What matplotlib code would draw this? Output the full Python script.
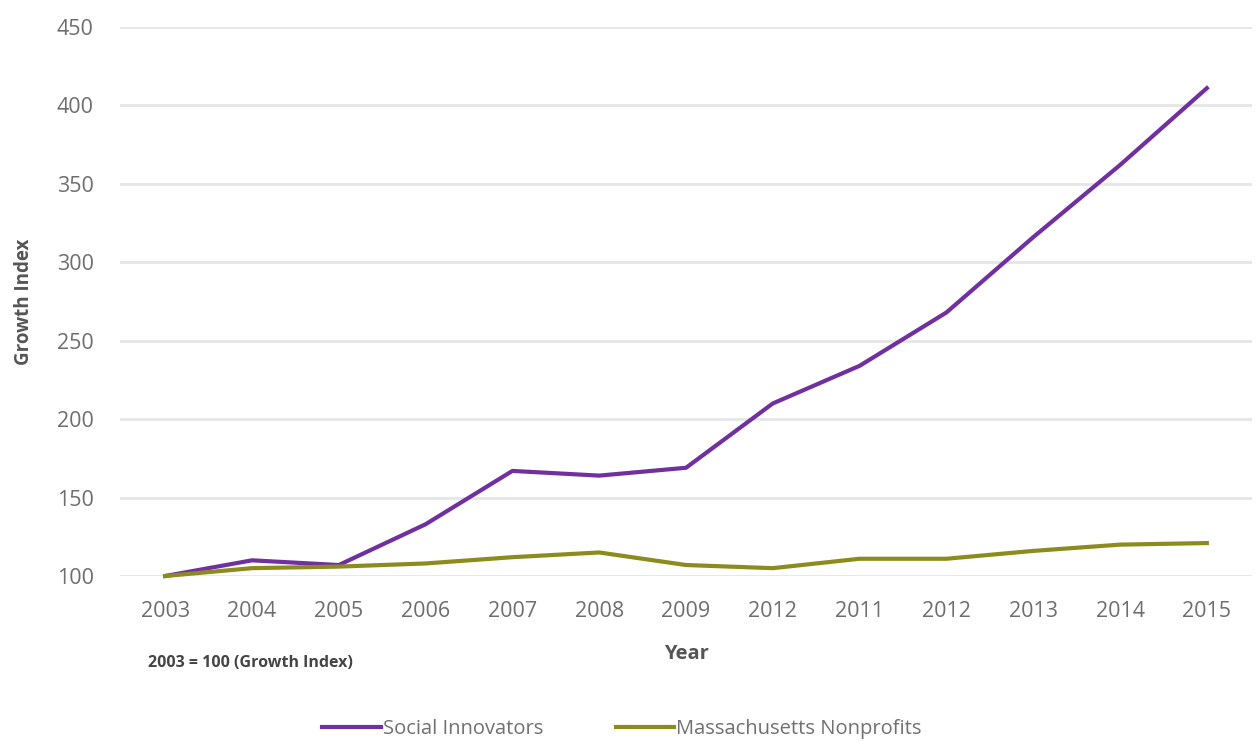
import matplotlib
matplotlib.use("Agg")
import matplotlib.pyplot as plt
import numpy as np

# Données (2003 = 100)
years = ["2003", "2004", "2005", "2006", "2007", "2008", "2009",
         "2012", "2011", "2012", "2013", "2014", "2015"]
social_innovators = [100, 110, 107, 133, 167, 164, 169, 210, 234, 268, 316, 362, 411]
ma_nonprofits = [100, 105, 106, 108, 112, 115, 107, 105, 111, 111, 116, 120, 121]
y_ticks = [100, 150, 200, 250, 300, 350, 400, 450]

plt.rcParams['font.family'] = ['Open Sans', 'DejaVu Sans']

fig = plt.figure(figsize=(12.57, 7.44), dpi=100)
ax = fig.add_axes([0.0955, 0.2258, 0.9005, 0.7379])

x = np.arange(len(years))
l1, = ax.plot(x, social_innovators, color="#7030A0", lw=3.0, label="Social Innovators",
              solid_joinstyle="round")
l2, = ax.plot(x, ma_nonprofits, color="#8C8C1E", lw=3.0, label="Massachusetts Nonprofits",
              solid_joinstyle="round")

ax.set_xlim(-0.52, 12.52)
ax.set_ylim(100, 450)
ax.set_yticks(y_ticks)
ax.set_xticks(x)
ax.set_xticklabels(years)
ax.yaxis.grid(True, color="#E6E6E6", lw=2)
ax.set_axisbelow(True)
for s in ax.spines.values():
    s.set_visible(False)
ax.tick_params(axis="both", length=0, labelsize=15.5, labelcolor="#6E6E6E")
ax.tick_params(axis="x", pad=18)
ax.tick_params(axis="y", pad=19)
for ln in (l1, l2):
    ln.set_clip_on(False)

ax.set_ylabel("Growth Index", fontsize=13.5, fontweight="bold", color="#555555")
ax.yaxis.set_label_coords(-0.076, 0.5)
ax.set_xlabel("Year", fontsize=14.5, fontweight="bold", color="#555555")
ax.xaxis.set_label_coords(0.5, -0.124)

fig.text(148 / 1257, 1 - 663 / 744, "2003 = 100 (Growth Index)", fontsize=11.5,
         fontweight="bold", color="#444444", va="center", ha="left")

fig.legend(handles=[l1, l2], loc="center", bbox_to_anchor=(622 / 1257, 1 - 729 / 744),
           ncol=2, frameon=False, fontsize=14.5, labelcolor="#707070",
           handlelength=2.9, handletextpad=0.1, columnspacing=3.6)

fig.savefig("out.png", dpi=100)
